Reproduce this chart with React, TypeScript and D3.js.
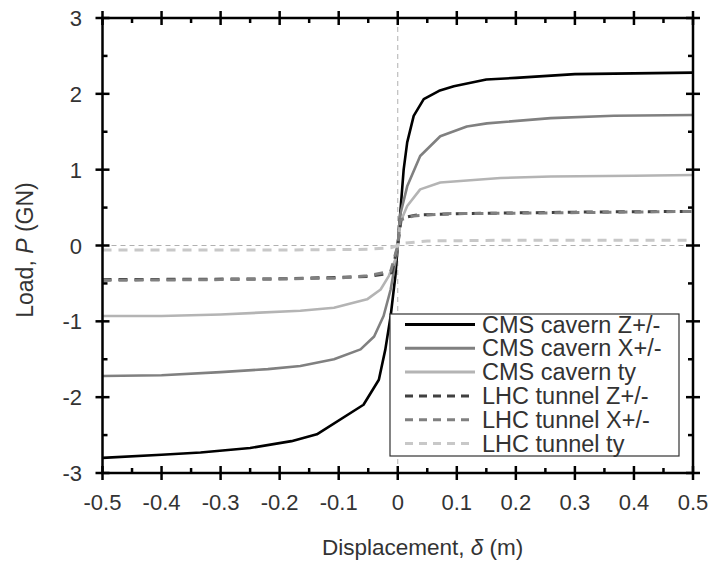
import React from "react";
import * as d3 from "d3";

type Pt = [number, number];

const xTicks = [-0.5, -0.4, -0.3, -0.2, -0.1, 0, 0.1, 0.2, 0.3, 0.4, 0.5];
const xTickLabels = ["-0.5", "-0.4", "-0.3", "-0.2", "-0.1", "0", "0.1", "0.2", "0.3", "0.4", "0.5"];
const yTicks = [-3, -2, -1, 0, 1, 2, 3];
const yTickLabels = ["-3", "-2", "-1", "0", "1", "2", "3"];

const cmsZ: Pt[] = [
  [-0.5, -2.8], [-0.4, -2.76], [-0.334, -2.73], [-0.25, -2.67], [-0.18, -2.58], [-0.137, -2.49],
  [-0.058, -2.1], [-0.032, -1.77], [-0.021, -1.37], [-0.012, -0.93], [-0.004, -0.4], [0, 0],
  [0.004, 0.4], [0.01, 1.0], [0.016, 1.36], [0.027, 1.71], [0.044, 1.93], [0.07, 2.04],
  [0.095, 2.1], [0.15, 2.19], [0.2, 2.21], [0.3, 2.26], [0.4, 2.27], [0.5, 2.28],
];
const cmsX: Pt[] = [
  [-0.5, -1.72], [-0.4, -1.71], [-0.3, -1.67], [-0.22, -1.63], [-0.165, -1.59], [-0.108, -1.5],
  [-0.063, -1.37], [-0.04, -1.2], [-0.024, -0.93], [-0.012, -0.58], [-0.004, -0.22], [0, 0],
  [0.004, 0.4], [0.016, 0.78], [0.038, 1.18], [0.072, 1.44], [0.117, 1.57], [0.151, 1.61],
  [0.259, 1.68], [0.366, 1.71], [0.5, 1.72],
];
const cmsTy: Pt[] = [
  [-0.5, -0.93], [-0.4, -0.93], [-0.3, -0.91], [-0.165, -0.86], [-0.108, -0.82], [-0.052, -0.71],
  [-0.029, -0.58], [-0.015, -0.4], [-0.004, -0.18], [0, 0], [0.004, 0.3], [0.016, 0.52],
  [0.038, 0.74], [0.072, 0.83], [0.174, 0.89], [0.259, 0.91], [0.4, 0.92], [0.5, 0.93],
];
const lhcZ: Pt[] = [
  [-0.5, -0.45], [-0.2, -0.44], [-0.05, -0.41], [-0.01, -0.36], [0, 0],
  [0.006, 0.36], [0.03, 0.4], [0.1, 0.42], [0.3, 0.44], [0.5, 0.45],
];
const lhcX: Pt[] = [
  [-0.5, -0.46], [-0.3, -0.45], [-0.1, -0.43], [-0.052, -0.4], [-0.012, -0.34], [0, 0],
  [0.0045, 0.34], [0.027, 0.39], [0.084, 0.42], [0.253, 0.43], [0.5, 0.45],
];
const lhcTy: Pt[] = [
  [-0.5, -0.06], [-0.2, -0.06], [-0.05, -0.05], [-0.012, -0.03], [0, 0],
  [0.01, 0.03], [0.05, 0.06], [0.2, 0.07], [0.5, 0.07],
];

const seriesNames = [
  "CMS cavern Z+/-", "CMS cavern X+/-", "CMS cavern ty",
  "LHC tunnel Z+/-", "LHC tunnel X+/-", "LHC tunnel ty",
];
const seriesData = [cmsZ, cmsX, cmsTy, lhcZ, lhcX, lhcTy];
const seriesColors = ["#000000", "#808080", "#b4b4b4", "#404040", "#808080", "#c8c8c8"];
const seriesDashed = [false, false, false, true, true, true];

const W = 712, H = 563;
const L = 102.5, R = 693, T = 18, B = 473;
const FONT = "'Liberation Sans', Arial, sans-serif";

export default function App() {
  const x = d3.scaleLinear().domain([-0.5, 0.5]).range([L, R]);
  const y = d3.scaleLinear().domain([-3, 3]).range([B, T]);
  const line = d3.line<Pt>().x((d) => x(d[0])).y((d) => y(d[1]));

  const xMinor = d3.range(-0.45, 0.5, 0.1);
  const yMinor = d3.range(-2.5, 3, 1);

  const legX = 390, legY = 314, legW = 289, legH = 142;
  const rowY0 = 324.5, rowStep = 23.8;

  return (
    <svg width={W} height={H} style={{ position: "absolute", left: 0, top: 0, background: "#fff" }}>
      <rect x={0} y={0} width={W} height={H} fill="#fff" />
      <line x1={x(0)} x2={x(0)} y1={T} y2={B} stroke="#b0b0b0" strokeWidth={1} strokeDasharray="5,4" />
      <line x1={L} x2={R} y1={y(0)} y2={y(0)} stroke="#b0b0b0" strokeWidth={1} strokeDasharray="5,4" />

      {seriesData.map((d, i) => (
        <path
          key={i}
          d={line(d) || ""}
          fill="none"
          stroke={seriesColors[i]}
          strokeWidth={seriesDashed[i] ? 3 : 2.6}
          strokeDasharray={seriesDashed[i] ? "9,7" : undefined}
          strokeLinejoin="round"
        />
      ))}

      <rect x={L} y={T} width={R - L} height={B - T} fill="none" stroke="#000" strokeWidth={2.5} />

      {xTicks.map((t, i) => (
        <g key={"xt" + i}>
          <line x1={x(t)} x2={x(t)} y1={B - 7} y2={B + 7} stroke="#000" strokeWidth={2.5} />
          <line x1={x(t)} x2={x(t)} y1={T - 7} y2={T + 7} stroke="#000" strokeWidth={2.5} />
          <text x={x(t)} y={510} textAnchor="middle" fontFamily={FONT} fontSize={22} fill="#333">
            {xTickLabels[i]}
          </text>
        </g>
      ))}
      {xMinor.map((t, i) => (
        <g key={"xm" + i}>
          <line x1={x(t)} x2={x(t)} y1={B - 5} y2={B} stroke="#000" strokeWidth={2.5} />
          <line x1={x(t)} x2={x(t)} y1={T} y2={T + 5} stroke="#000" strokeWidth={2.5} />
        </g>
      ))}
      {yTicks.map((t, i) => (
        <g key={"yt" + i}>
          <line x1={L - 7} x2={L + 7} y1={y(t)} y2={y(t)} stroke="#000" strokeWidth={2.5} />
          <line x1={R - 7} x2={R + 7} y1={y(t)} y2={y(t)} stroke="#000" strokeWidth={2.5} />
          <text x={82} y={y(t) + 8} textAnchor="end" fontFamily={FONT} fontSize={22} fill="#333">
            {yTickLabels[i]}
          </text>
        </g>
      ))}
      {yMinor.map((t, i) => (
        <g key={"ym" + i}>
          <line x1={L} x2={L + 5} y1={y(t)} y2={y(t)} stroke="#000" strokeWidth={2.5} />
          <line x1={R - 5} x2={R} y1={y(t)} y2={y(t)} stroke="#000" strokeWidth={2.5} />
        </g>
      ))}

      <text x={322} y={555} fontFamily={FONT} fontSize={22.5} fill="#333">
        Displacement, <tspan fontStyle="italic">δ</tspan> (m)
      </text>
      <text transform={`translate(33,250) rotate(-90)`} textAnchor="middle" fontFamily={FONT} fontSize={23} fill="#333">
        Load, <tspan fontStyle="italic">P</tspan> (GN)
      </text>

      <rect x={legX} y={legY} width={legW} height={legH} fill="#fff" stroke="#333" strokeWidth={1.2} />
      {seriesNames.map((n, i) => {
        const ry = rowY0 + i * rowStep;
        return (
          <g key={"lg" + i}>
            <line
              x1={405} x2={475} y1={ry} y2={ry}
              stroke={seriesColors[i]}
              strokeWidth={3}
              strokeDasharray={seriesDashed[i] ? "8,6" : undefined}
            />
            <text x={482} y={ry + 8} fontFamily={FONT} fontSize={23.5} fill="#333">
              {n}
            </text>
          </g>
        );
      })}
    </svg>
  );
}
